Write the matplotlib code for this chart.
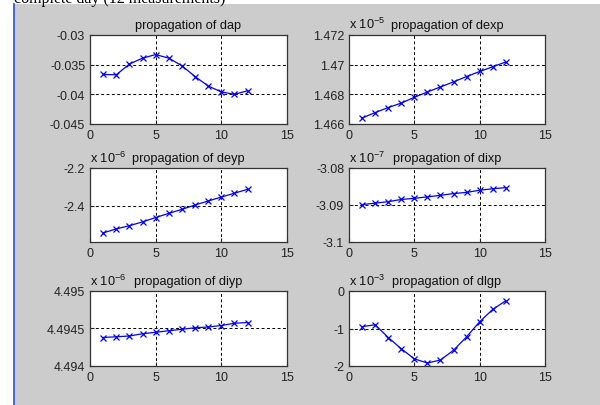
import matplotlib
matplotlib.use("Agg")
import matplotlib.pyplot as plt
from matplotlib.lines import Line2D

# measurement index (12 measurements over the day)
meas = list(range(1, 13))

# values as shown on each axis (the axis multiplier is kept apart)
dap = [-0.03665, -0.0367, -0.0349, -0.0339, -0.0333, -0.0339,
       -0.0352, -0.0370, -0.0386, -0.0396, -0.0400, -0.0394]
dexp = [1.4664, 1.46677, 1.46711, 1.46741, 1.4678, 1.46816,
        1.4685, 1.46884, 1.4692, 1.46954, 1.46986, 1.47018]
deyp = [-2.542, -2.521, -2.504, -2.484, -2.461, -2.439,
        -2.418, -2.395, -2.374, -2.353, -2.333, -2.312]
dixp = [-3.0899, -3.0895, -3.0891, -3.0885, -3.0882, -3.0878,
        -3.0874, -3.0869, -3.0866, -3.0860, -3.0856, -3.0853]
diyp = [4.49438, 4.49439, 4.4944, 4.49443, 4.49445, 4.49447,
        4.49449, 4.49451, 4.49452, 4.49454, 4.49457, 4.49458]
dlgp = [-0.95, -0.90, -1.24, -1.54, -1.81, -1.92,
        -1.84, -1.58, -1.22, -0.82, -0.49, -0.26]

names = ["dap", "dexp", "deyp", "dixp", "diyp", "dlgp"]
series = [dap, dexp, deyp, dixp, diyp, dlgp]
exponents = [None, -5, -6, -7, -6, -3]
yticks = [
    [-0.045, -0.04, -0.035, -0.03],
    [1.466, 1.468, 1.47, 1.472],
    [-2.4, -2.2],
    [-3.1, -3.09, -3.08],
    [4.494, 4.4945, 4.495],
    [-2, -1, 0],
]
ylims = [
    (-0.045, -0.03),
    (1.466, 1.472),
    (-2.59, -2.2),
    (-3.1, -3.08),
    (4.494, 4.495),
    (-2, 0),
]
xticks = [0, 5, 10, 15]

W, H = 600, 406
# pixel boxes: left, right, top, bottom
boxes = [
    (90, 287, 36, 125), (349, 545, 36, 125),
    (90, 287, 169, 243), (349, 545, 169, 243),
    (90, 287, 292, 367), (349, 545, 292, 367),
]

plt.rcParams['font.family'] = ['Liberation Sans', 'DejaVu Sans']
plt.rcParams['mathtext.fontset'] = 'custom'
plt.rcParams['mathtext.rm'] = 'Liberation Sans'

fig = plt.figure(figsize=(W / 100, H / 100), dpi=100, facecolor='#cccccc')

# white strip at top with the caption of the page, cut as in the screenshot
fig.patches.append(plt.Rectangle((0, 1 - 5 / H), 1, 5 / H, transform=fig.transFigure,
                                 facecolor='white', edgecolor='none', zorder=0))
fig.patches.append(plt.Rectangle((0, 0), 14 / W, 1, transform=fig.transFigure,
                                 facecolor='white', edgecolor='none', zorder=0))
fig.text(14 / W, 1 - 3 / H, "complete day (12 measurements)", family='Liberation Serif',
         fontsize=11.5, va='baseline', ha='left', color='black')
fig.add_artist(Line2D([13.5 / W, 13.5 / W], [0, 1 - 5 / H], color='#2255dd', lw=1.2))

for i, (name, vals, ex) in enumerate(zip(names, series, exponents)):
    l, r, t, b = boxes[i]
    ax = fig.add_axes([l / W, 1 - b / H, (r - l) / W, (b - t) / H])
    ax.set_facecolor('white')
    ax.plot(meas, vals, color='blue', lw=0.9, marker='x', ms=4, mew=0.9)
    ax.set_xlim(0, 15)
    ax.set_ylim(*ylims[i])
    ax.set_xticks(xticks)
    ax.set_xticklabels([str(v) for v in xticks])
    ax.set_yticks(yticks[i])
    ax.set_yticklabels(['%g' % v for v in yticks[i]])
    ax.grid(True, color='black', ls=(0, (3, 2.5)), lw=0.7)
    ax.tick_params(direction='in', length=3, labelsize=9, colors='#222222', pad=3.5)
    for s in ax.spines.values():
        s.set_color('#333333')
        s.set_linewidth(0.9)
    ax.set_title("propagation of " + name, fontsize=9.2, pad=5, color='#111111')
    if ex is not None:
        ax.text(0, 1.04, r"x 10$^{%d}$" % ex, transform=ax.transAxes, fontsize=9.2,
                ha='left', va='bottom', color='#111111')

fig.savefig("out.png", dpi=100, facecolor=fig.get_facecolor())
